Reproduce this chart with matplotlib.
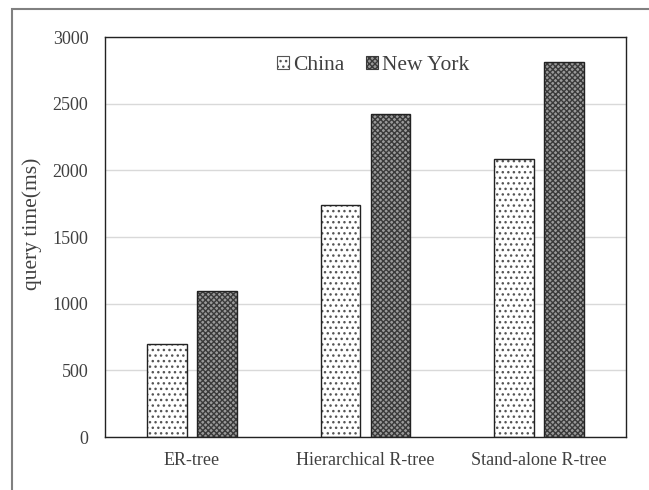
import matplotlib
matplotlib.use("Agg")
import matplotlib.pyplot as plt
import numpy as np
from matplotlib.patches import Rectangle, Patch

plt.rcParams['font.family'] = ['Liberation Serif', 'DejaVu Serif']
plt.rcParams['hatch.linewidth'] = 1.0

categories = ["ER-tree", "Hierarchical R-tree", "Stand-alone R-tree"]
series_names = ["China", "New York"]
china = [695, 1740, 2085]
new_york = [1095, 2425, 2810]
yticks = [0, 500, 1000, 1500, 2000, 2500, 3000]

txt = '#404040'
fig = plt.figure(figsize=(6.49, 4.9), dpi=100)
ax = fig.add_axes([105/649, 1-437/490, 521/649, 400/490])

# outer frame
fig.add_artist(Rectangle((12/649, -0.1), 1.2, (1-9/490)+0.1, transform=fig.transFigure,
                         fill=False, edgecolor='#808080', linewidth=1.5))

x = np.arange(len(categories))
w = 0.228
off = 0.144

# China: white with dots
ax.bar(x - off, china, w, facecolor='white', edgecolor='#555555', hatch='...', linewidth=0, zorder=2)
ax.bar(x - off, china, w, facecolor='none', edgecolor='#222222', linewidth=1.0, zorder=3)
# New York: gray checkered
ax.bar(x + off, new_york, w, facecolor='#9a9a9a', edgecolor='#3a3a3a', hatch='xxxxxx', linewidth=0, zorder=2)
ax.bar(x + off, new_york, w, facecolor='none', edgecolor='#222222', linewidth=1.0, zorder=3)

ax.set_xlim(-0.5, 2.5)
ax.set_ylim(0, 3000)
ax.set_yticks(yticks)
ax.set_xticks(x)
ax.set_xticklabels(categories)
ax.yaxis.grid(True, color='#d9d9d9', linewidth=1.0, zorder=0)
ax.set_axisbelow(True)
ax.tick_params(axis='both', length=0, labelsize=13, colors=txt)
ax.tick_params(axis='y', pad=12)
ax.tick_params(axis='x', pad=11)
for s in ax.spines.values():
    s.set_color('#222222')
    s.set_linewidth(1.0)
ax.set_ylabel('query time(ms)', fontsize=15.5, color=txt)
ax.yaxis.set_label_coords(-0.121, 0.5325)

h1 = Patch(facecolor='white', edgecolor='#555555', hatch='...', linewidth=0.8)
h2 = Patch(facecolor='#9a9a9a', edgecolor='#3a3a3a', hatch='xxxxxx', linewidth=0.8)
leg = ax.legend([h1, h2], series_names, loc='upper center', bbox_to_anchor=(0.5 + 8/521, 1.0),
                ncol=2, frameon=False, fontsize=15.5, handlelength=0.55, handleheight=0.55,
                handletextpad=0.2, columnspacing=1.0, borderaxespad=0.5)
for t in leg.get_texts():
    t.set_color(txt)

fig.savefig('out.png', dpi=100)
